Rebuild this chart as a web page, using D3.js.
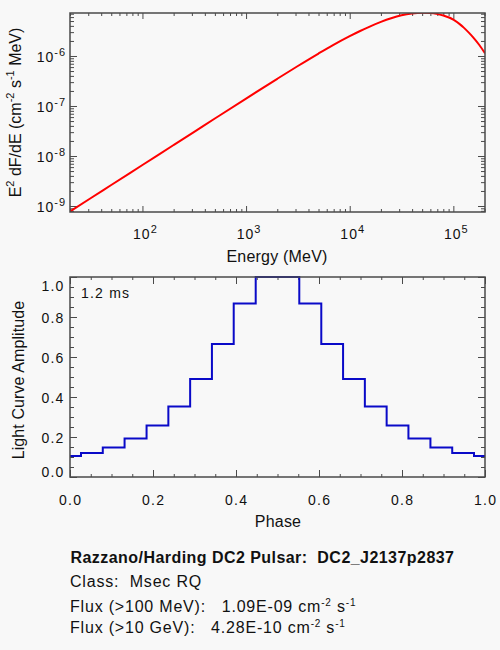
<!DOCTYPE html>
<html>
<head>
<meta charset="utf-8">
<script src="https://cdn.jsdelivr.net/npm/d3@7"></script>
<style>
  body { margin: 0; background: #f8f8f8; }
  svg { display: block; font-family: "Liberation Sans", Arial, sans-serif; }
  text { white-space: pre; }
</style>
</head>
<body>
<div id="chart"></div>
<script>
// spectrum (E in MeV, E^2 dF/dE)
const energyMeV = [20, 31.6, 50, 100, 200, 316, 500, 1000, 2000, 3160, 5000, 6900, 10000, 12600, 15600, 20000, 25100, 31600, 39800, 50100, 60000, 70800, 80000, 100000, 116000, 126000, 141000, 156000, 178000, 202000];
const e2dfde = [7.76e-10, 1.43e-9, 2.63e-9, 6.61e-9, 1.66e-8, 3.05e-8, 5.62e-8, 1.41e-7, 3.5e-7, 6.31e-7, 1.12e-6, 1.65e-6, 2.49e-6, 3.16e-6, 3.88e-6, 4.81e-6, 5.69e-6, 6.5e-6, 7.06e-6, 7.29e-6, 7.23e-6, 6.87e-6, 6.46e-6, 5.35e-6, 4.29e-6, 3.69e-6, 2.93e-6, 2.33e-6, 1.66e-6, 1.13e-6];

// light curve, bin centres and amplitudes
const phase = [0, 0.053, 0.105, 0.158, 0.211, 0.263, 0.316, 0.368, 0.421, 0.474, 0.526, 0.579, 0.632, 0.684, 0.737, 0.789, 0.842, 0.895, 0.947, 1.0];
const amplitude = [0.105, 0.12, 0.147, 0.192, 0.258, 0.352, 0.49, 0.665, 0.868, 1.0, 1.0, 0.868, 0.665, 0.49, 0.352, 0.258, 0.192, 0.147, 0.12, 0.105];

const energyTicks = [1e2, 1e3, 1e4, 1e5];
const energyTickExp = ["2", "3", "4", "5"];
const fluxTicks = [1e-9, 1e-8, 1e-7, 1e-6];
const fluxTickExp = ["-9", "-8", "-7", "-6"];
const phaseTicks = [0, 0.2, 0.4, 0.6, 0.8, 1.0];
const ampTicks = [0, 0.2, 0.4, 0.6, 0.8, 1.0];

const pulsarName = "DC2_J2137p2837";
const pulsarClass = "Msec RQ";
const fluxLabels = ["Flux (>100 MeV):   ", "Flux (>10 GeV):   "];
const fluxValues = ["1.09E-09", "4.28E-10"];
const periodLabel = "1.2 ms";

const W = 500, H = 650;
const frameCol = "#4a4a4a";
const ink = "#111";

const svg = d3.select("#chart").append("svg")
  .attr("width", W).attr("height", H);
svg.append("rect").attr("width", W).attr("height", H).attr("fill", "#f8f8f8");

// ---------- top panel: spectrum ----------
const t = {l: 70, r: 485, t: 13, b: 212};
const xE = d3.scaleLog().domain([20, 2.02e5]).range([t.l, t.r]);
const yF = d3.scaleLog().domain([7.59e-10, 7.24e-6]).range([t.b, t.t]);

svg.append("clipPath").attr("id", "clipTop")
  .append("rect").attr("x", t.l).attr("y", t.t).attr("width", t.r - t.l).attr("height", t.b - t.t);

const isDecade = v => Math.abs(Math.log10(v) - Math.round(Math.log10(v))) < 1e-6;
const minorE = xE.ticks().filter(v => !isDecade(v));
const minorF = yF.ticks().filter(v => !isDecade(v));

function tickAxis(axisFn, scale, vals, size, transform) {
  const g = svg.append("g").attr("transform", transform)
    .call(axisFn(scale).tickValues(vals).tickSize(size).tickFormat(""));
  g.select(".domain").remove();
  g.selectAll("line").attr("stroke", frameCol);
}

tickAxis(d3.axisBottom, xE, energyTicks, -6, `translate(0,${t.b})`);
tickAxis(d3.axisBottom, xE, minorE, -3, `translate(0,${t.b})`);
tickAxis(d3.axisTop, xE, energyTicks, -6, `translate(0,${t.t})`);
tickAxis(d3.axisTop, xE, minorE, -3, `translate(0,${t.t})`);
tickAxis(d3.axisLeft, yF, fluxTicks, -7, `translate(${t.l},0)`);
tickAxis(d3.axisLeft, yF, minorF, -4, `translate(${t.l},0)`);
tickAxis(d3.axisRight, yF, fluxTicks, -7, `translate(${t.r},0)`);
tickAxis(d3.axisRight, yF, minorF, -4, `translate(${t.r},0)`);

const specLine = d3.line()
  .x((d, i) => xE(energyMeV[i]))
  .y(d => yF(d))
  .curve(d3.curveMonotoneX);
svg.append("path").datum(e2dfde)
  .attr("clip-path", "url(#clipTop)")
  .attr("d", specLine)
  .attr("fill", "none").attr("stroke", "#f00").attr("stroke-width", 2);

svg.append("rect").attr("x", t.l).attr("y", t.t).attr("width", t.r - t.l).attr("height", t.b - t.t)
  .attr("fill", "none").attr("stroke", frameCol).attr("stroke-width", 1.5);

// tick labels with superscripts
energyTicks.forEach((v, i) => {
  const tx = svg.append("text").attr("x", xE(v) + 3).attr("y", 239)
    .attr("text-anchor", "middle").attr("font-size", 14).attr("letter-spacing", 1).attr("fill", ink);
  tx.append("tspan").text("10");
  tx.append("tspan").attr("dy", -6).attr("font-size", 11).text(energyTickExp[i]);
});
fluxTicks.forEach((v, i) => {
  const tx = svg.append("text").attr("x", 66).attr("y", yF(v) + 6)
    .attr("text-anchor", "end").attr("font-size", 14).attr("letter-spacing", 1).attr("fill", ink);
  tx.append("tspan").text("10");
  tx.append("tspan").attr("dy", -6).attr("font-size", 11).text(fluxTickExp[i]);
});

svg.append("text").attr("x", 277).attr("y", 262)
  .attr("text-anchor", "middle").attr("font-size", 16).attr("letter-spacing", 0.2).attr("fill", ink)
  .text("Energy (MeV)");

const yt = svg.append("text")
  .attr("transform", `translate(21,${(t.t + t.b) / 2}) rotate(-90)`)
  .attr("text-anchor", "middle").attr("font-size", 16).attr("fill", ink);
[["E", 0], ["2", 1], [" dF/dE (cm", 0], ["-2", 1], [" s", 0], ["-1", 1], [" MeV)", 0]].forEach(([s, sup], i, arr) => {
  const prevSup = i > 0 && arr[i - 1][1];
  const ts = yt.append("tspan").text(s);
  if (sup) ts.attr("dy", -7).attr("font-size", 11);
  else if (prevSup) ts.attr("dy", 7);
});

// ---------- bottom panel: light curve ----------
const b = {l: 70, r: 485, t: 277, b: 477};
const xP = d3.scaleLinear().domain([0, 1]).range([b.l, b.r]);
const yA = d3.scaleLinear().domain([0, 1]).range([b.b, b.t]);

const minorP = xP.ticks(20).filter(v => !phaseTicks.some(m => Math.abs(m - v) < 1e-6));
const minorA = yA.ticks(20).filter(v => !ampTicks.some(m => Math.abs(m - v) < 1e-6));

tickAxis(d3.axisBottom, xP, phaseTicks, -7, `translate(0,${b.b})`);
tickAxis(d3.axisBottom, xP, minorP, -3, `translate(0,${b.b})`);
tickAxis(d3.axisTop, xP, phaseTicks, -7, `translate(0,${b.t})`);
tickAxis(d3.axisTop, xP, minorP, -3, `translate(0,${b.t})`);
tickAxis(d3.axisLeft, yA, ampTicks, -7, `translate(${b.l},0)`);
tickAxis(d3.axisLeft, yA, minorA, -4, `translate(${b.l},0)`);
tickAxis(d3.axisRight, yA, ampTicks, -7, `translate(${b.r},0)`);
tickAxis(d3.axisRight, yA, minorA, -4, `translate(${b.r},0)`);

const stepLine = d3.line()
  .x((d, i) => xP(phase[i]))
  .y(d => yA(d))
  .curve(d3.curveStep);
svg.append("path").datum(amplitude)
  .attr("d", stepLine)
  .attr("fill", "none").attr("stroke", "#0a0ac8").attr("stroke-width", 2);

svg.append("rect").attr("x", b.l).attr("y", b.t).attr("width", b.r - b.l).attr("height", b.b - b.t)
  .attr("fill", "none").attr("stroke", frameCol).attr("stroke-width", 1.5);

phaseTicks.forEach(v => {
  svg.append("text").attr("x", xP(v) + 0.6).attr("y", 504.5)
    .attr("text-anchor", "middle").attr("font-size", 14).attr("letter-spacing", 1.2).attr("fill", ink)
    .text(d3.format(".1f")(v));
});
ampTicks.forEach(v => {
  const yy = Math.max(b.t + 8, Math.min(b.b - 6, yA(v)));
  svg.append("text").attr("x", 64.5).attr("y", yy + 5.5)
    .attr("text-anchor", "end").attr("font-size", 14).attr("letter-spacing", 1.2).attr("fill", ink)
    .text(d3.format(".1f")(v));
});

svg.append("text").attr("x", 278).attr("y", 527)
  .attr("text-anchor", "middle").attr("font-size", 16).attr("letter-spacing", 0.2).attr("fill", ink)
  .text("Phase");
svg.append("text")
  .attr("transform", `translate(24,${(b.t + b.b) / 2 + 3}) rotate(-90)`)
  .attr("text-anchor", "middle").attr("font-size", 16).attr("letter-spacing", 0.1).attr("fill", ink)
  .text("Light Curve Amplitude");

svg.append("text").attr("x", 81).attr("y", 297.5)
  .attr("font-size", 14).attr("letter-spacing", 1.2).attr("fill", ink).text(periodLabel);

// ---------- info text ----------
svg.append("text").attr("x", 70.5).attr("y", 562.5)
  .attr("font-size", 16).attr("font-weight", "bold").attr("letter-spacing", 0.45).attr("fill", ink)
  .text("Razzano/Harding DC2 Pulsar:  " + pulsarName);
svg.append("text").attr("x", 70).attr("y", 587)
  .attr("font-size", 16).attr("letter-spacing", 0.8).attr("fill", ink)
  .text("Class:  " + pulsarClass);

[611.5, 633].forEach((yy, i) => {
  const tx = svg.append("text").attr("x", 70).attr("y", yy)
    .attr("font-size", 16).attr("letter-spacing", 0.8).attr("fill", ink);
  tx.append("tspan").text(fluxLabels[i] + fluxValues[i] + " cm");
  tx.append("tspan").attr("dy", -6).attr("font-size", 10).text("-2");
  tx.append("tspan").attr("dy", 6).text(" s");
  tx.append("tspan").attr("dy", -6).attr("font-size", 10).text("-1");
});
</script>
</body>
</html>
